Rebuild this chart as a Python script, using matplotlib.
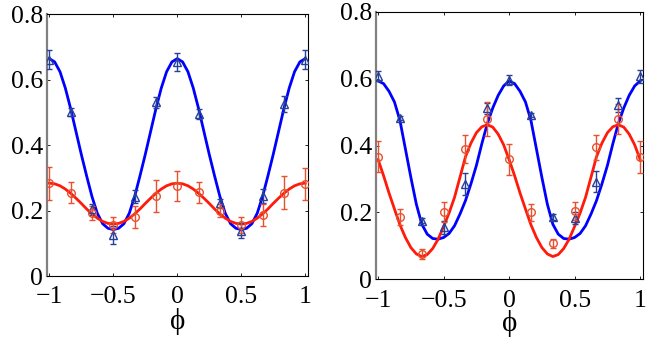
import numpy as np
import matplotlib
matplotlib.use("Agg")
import matplotlib.pyplot as plt

# ---------------- data ----------------
phi_pts = [-1, -5/6, -2/3, -1/2, -1/3, -1/6, 0, 1/6, 1/3, 1/2, 2/3, 5/6, 1]

# left panel points
L_blue = [0.662, 0.502, 0.204, 0.125, 0.243, 0.531, 0.655, 0.495, 0.223, 0.139, 0.245, 0.526, 0.662]
L_blue_err = [0.028, 0.012, 0.016, 0.027, 0.02, 0.018, 0.027, 0.015, 0.014, 0.022, 0.022, 0.024, 0.028]
L_red = [0.284, 0.255, 0.192, 0.156, 0.180, 0.245, 0.275, 0.256, 0.200, 0.156, 0.187, 0.255, 0.282]
L_red_err = [0.05, 0.033, 0.022, 0.025, 0.033, 0.048, 0.047, 0.033, 0.02, 0.024, 0.034, 0.05, 0.048]

# right panel points
R_blue = [0.607, 0.481, 0.175, 0.155, 0.284, 0.511, 0.596, 0.491, 0.186, 0.183, 0.292, 0.521, 0.607]
R_blue_err = [0.015, 0.006, 0.008, 0.02, 0.033, 0.017, 0.016, 0.005, 0.008, 0.017, 0.032, 0.02, 0.019]
R_red = [0.367, 0.186, 0.076, 0.200, 0.390, 0.479, 0.359, 0.200, 0.108, 0.205, 0.395, 0.479, 0.365]
R_red_err = [0.045, 0.025, 0.016, 0.03, 0.041, 0.05, 0.046, 0.025, 0.013, 0.027, 0.037, 0.046, 0.047]

phi_curve = [-1 + k / 24 for k in range(49)]
L_blue_curve = [0.665, 0.655, 0.625, 0.575, 0.512, 0.442, 0.372, 0.306, 0.243, 0.192, 0.160, 0.146, 0.142,
                0.146, 0.160, 0.192, 0.243, 0.306, 0.372, 0.442, 0.512, 0.575, 0.625, 0.655, 0.665,
                0.655, 0.625, 0.575, 0.512, 0.442, 0.372, 0.306, 0.243, 0.192, 0.160, 0.146, 0.142,
                0.146, 0.160, 0.192, 0.243, 0.306, 0.372, 0.442, 0.512, 0.575, 0.625, 0.655, 0.665]
L_red_curve = [0.284, 0.282, 0.276, 0.266, 0.253, 0.238, 0.222, 0.205, 0.190, 0.177, 0.167, 0.161, 0.159,
               0.161, 0.167, 0.177, 0.190, 0.205, 0.222, 0.238, 0.253, 0.266, 0.276, 0.282, 0.284,
               0.282, 0.276, 0.266, 0.253, 0.238, 0.222, 0.205, 0.190, 0.177, 0.167, 0.161, 0.159,
               0.161, 0.167, 0.177, 0.190, 0.205, 0.222, 0.238, 0.253, 0.266, 0.276, 0.282, 0.284]
R_blue_curve = [0.593, 0.585, 0.562, 0.530, 0.475, 0.390, 0.305, 0.225, 0.165, 0.135, 0.122, 0.120,
                0.125, 0.137, 0.160, 0.195, 0.235, 0.285, 0.340, 0.405, 0.465, 0.512, 0.550, 0.578,
                0.593, 0.585, 0.562, 0.530, 0.475, 0.390, 0.305, 0.225, 0.165, 0.135, 0.122, 0.120,
                0.125, 0.137, 0.160, 0.195, 0.235, 0.285, 0.340, 0.405, 0.465, 0.512, 0.550, 0.578,
                0.593]
R_red_curve = [0.358, 0.310, 0.258, 0.210, 0.163, 0.125, 0.095, 0.076, 0.068, 0.074, 0.092, 0.120,
               0.158, 0.198, 0.245, 0.305, 0.366, 0.407, 0.438, 0.456, 0.462, 0.455, 0.434, 0.402,
               0.358, 0.310, 0.258, 0.210, 0.163, 0.125, 0.095, 0.076, 0.068, 0.074, 0.092, 0.120,
               0.158, 0.198, 0.245, 0.305, 0.366, 0.407, 0.438, 0.456, 0.462, 0.455, 0.434, 0.402,
               0.358]

xticks = [-1, -0.5, 0, 0.5, 1]
xticklabels = ["\u22121", "\u22120.5", "0", "0.5", "1"]
yticks = [0, 0.2, 0.4, 0.6, 0.8]
yticklabels = ["0", "0.2", "0.4", "0.6", "0.8"]
xlabel = "\u03d5"

# ---------------- style ----------------
serif = ["Liberation Serif", "DejaVu Serif"]
plt.rcParams["font.family"] = serif
LINE_BLUE = "#0000ff"
LINE_RED = "#ff1a0a"
PT_BLUE = "#27409a"
PT_RED = "#e8502e"

fig = plt.figure(figsize=(6.53, 3.41), dpi=100)
ax1 = fig.add_axes([0.0724, 0.1906, 0.3997, 0.7669])
ax2 = fig.add_axes([0.5758, 0.1809, 0.4093, 0.7848])


def draw(ax, bc, rc, bp, be, rp, re, xpad, lpad):
    ax.plot(phi_curve, bc, color=LINE_BLUE, lw=2.0, zorder=2)
    ax.plot(phi_curve, rc, color=LINE_RED, lw=2.0, zorder=2)
    ax.errorbar(phi_pts, bp, yerr=be, fmt="^", ms=6, mfc="none", mec=PT_BLUE, mew=1.0,
                ecolor=PT_BLUE, elinewidth=1.0, capsize=2.5, capthick=1.0, zorder=3)
    ax.errorbar(phi_pts, rp, yerr=re, fmt="o", ms=5.5, mfc="none", mec=PT_RED, mew=1.0,
                ecolor=PT_RED, elinewidth=1.0, capsize=2.5, capthick=1.0, zorder=3)
    ax.set_xlim(-1.016, 1.024)
    ax.set_ylim(0, 0.8)
    ax.set_xticks(xticks)
    ax.set_xticklabels(xticklabels)
    ax.set_yticks(yticks)
    ax.set_yticklabels(yticklabels)
    ax.tick_params(direction="in", top=True, right=True, length=2.5, width=0.6,
                   labelsize=18.5)
    ax.tick_params(axis="y", pad=3)
    ax.tick_params(axis="x", pad=xpad)
    for s in ["top", "right", "bottom"]:
        ax.spines[s].set_linewidth(0.8)
        ax.spines[s].set_color("black")
    ax.spines["left"].set_linewidth(1.6)
    ax.spines["left"].set_color("#808080")
    ax.set_xlabel(xlabel, fontsize=21, labelpad=lpad)


draw(ax1, L_blue_curve, L_red_curve, L_blue, L_blue_err, L_red, L_red_err, 7.5, 0)
draw(ax2, R_blue_curve, R_red_curve, R_blue, R_blue_err, R_red, R_red_err, 8, -1.5)

fig.savefig("out.png", dpi=100)
